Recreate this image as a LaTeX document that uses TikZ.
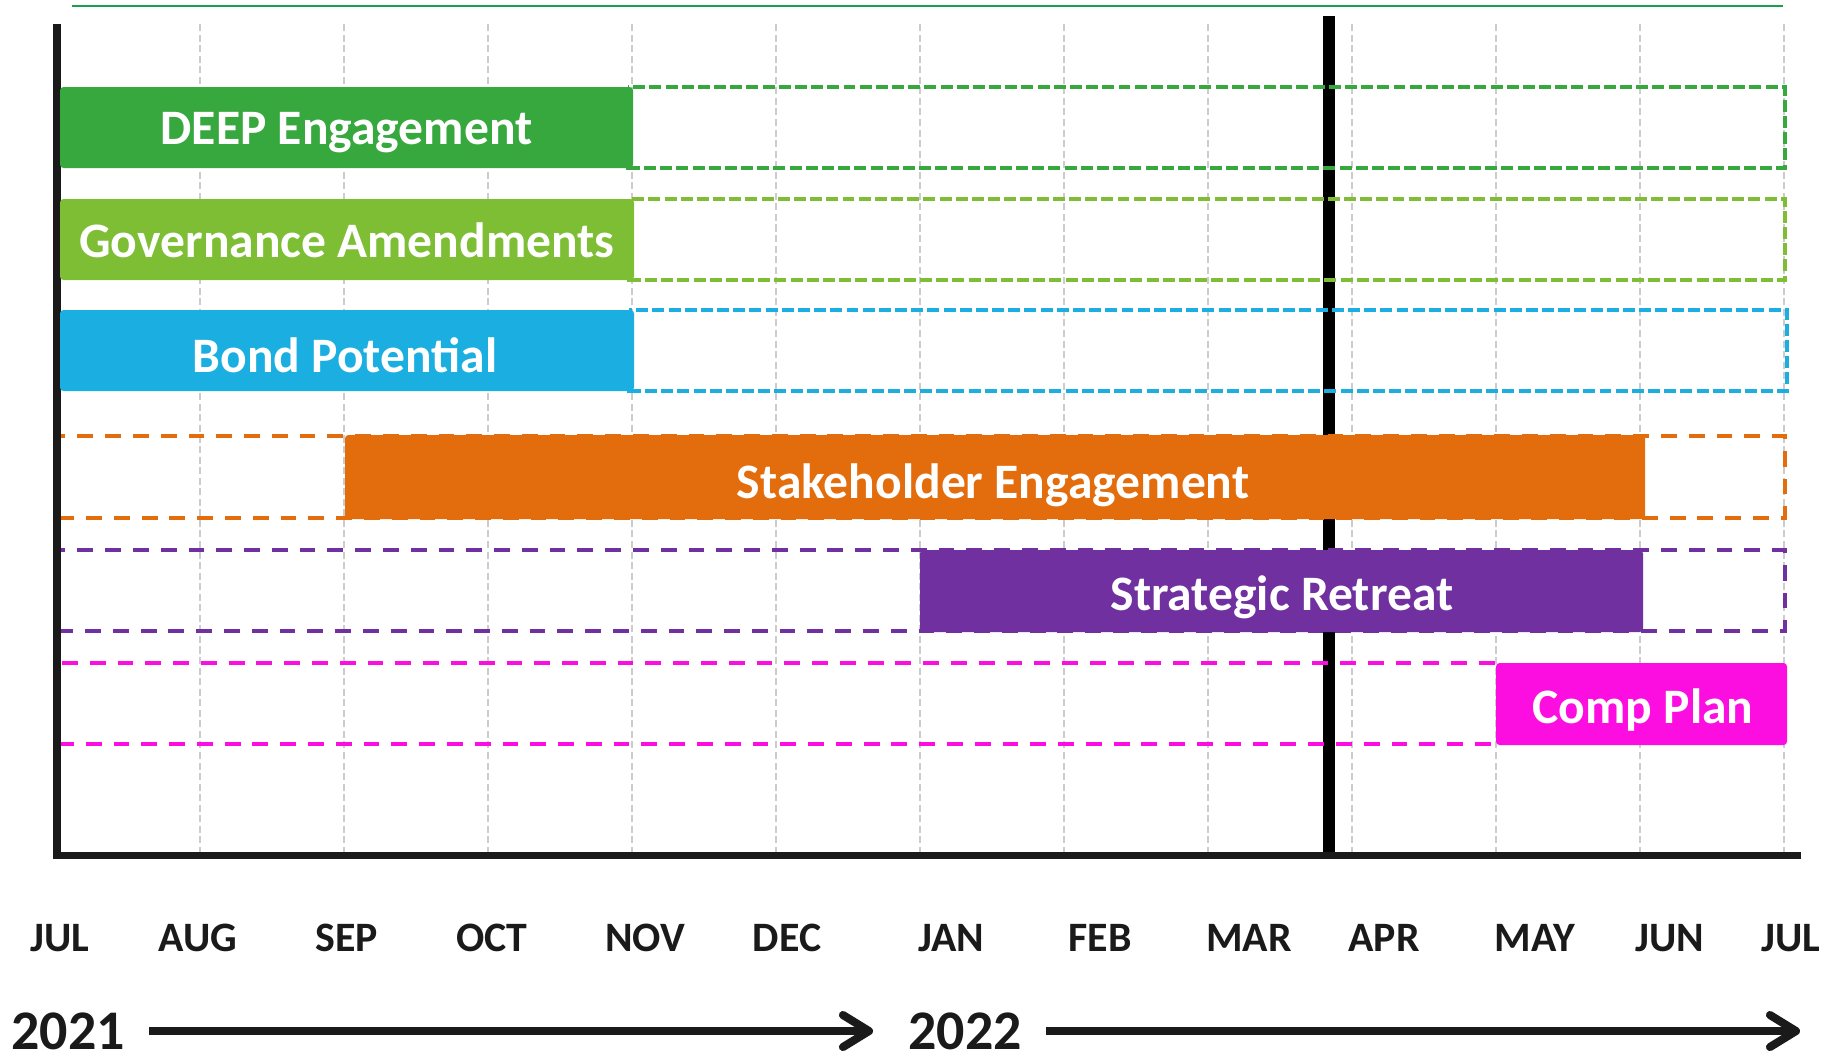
\documentclass[tikz,border=0pt]{standalone}
\usepackage{fontspec}
\setmainfont{Carlito}
\usetikzlibrary{arrows.meta}
\definecolor{deepgreen}{RGB}{54,168,62}
\definecolor{govgreen}{RGB}{125,190,52}
\definecolor{bondblue}{RGB}{26,175,224}
\definecolor{stakeorange}{RGB}{227,108,12}
\definecolor{retreatpurple}{RGB}{112,48,160}
\definecolor{compmagenta}{RGB}{252,14,224}
\definecolor{topgreen}{RGB}{22,160,80}
\definecolor{gridgray}{RGB}{204,204,204}
\definecolor{axisblack}{RGB}{26,26,26}
\begin{document}
\begin{tikzpicture}[x=0.01cm, y=-0.01cm]
    \tikzstyle{grid} = [draw=gridgray, line width=0.6pt, dash pattern=on 2pt off 1pt]
    \tikzstyle{axis} = [draw=axisblack, line width=2pt]
    \tikzstyle{today} = [draw=black, line width=3.4pt]
    \tikzstyle{topline} = [draw=topgreen, line width=0.7pt]
    \tikzstyle{planshort} = [line width=1.1pt, dash pattern=on 3.4pt off 1.2pt]
    \tikzstyle{planlong} = [line width=1.1pt, dash pattern=on 4.5pt off 3.4pt]
    \tikzstyle{bar} = [rounded corners=1pt]
    \tikzstyle{barlabel} = [text=white, font=\bfseries\fontsize{14.1}{16}\selectfont, text height=9.1pt, text depth=0pt, inner sep=0pt]
    \tikzstyle{month} = [anchor=base, text=axisblack, font=\bfseries\fontsize{11.9}{13}\selectfont, inner sep=0pt]
    \tikzstyle{year} = [anchor=base, text=axisblack, font=\bfseries\fontsize{15.9}{18}\selectfont, inner xsep=0.24cm, inner ysep=0pt]
    \tikzstyle{yeararrow} = [draw=axisblack, line width=2.3pt, -{Straight Barb[length=0.26cm, width=0.32cm, round]}]
    \useasboundingbox (0,0) rectangle (1837,1056);
    % month grid
    \foreach \i in {1,...,12}
        \draw[grid] (56+144*\i,24) -- (56+144*\i,852);
    \draw[topline] (72,6) -- (1783,6);
    % today
    \draw[today] (1329,16) -- (1329,855);
    % planned spans
    \draw[planshort, draw=deepgreen] (628,87) rectangle (1785,168);
    \draw[planshort, draw=govgreen] (629,199) rectangle (1785,280);
    \draw[planshort, draw=bondblue] (629,310) rectangle (1787,391);
    \draw[planlong, draw=stakeorange] (57,436) rectangle (1785,518);
    \draw[planlong, draw=retreatpurple] (55,550) rectangle (1785,631);
    \draw[planlong, draw=compmagenta] (62,663) -- (1496,663);
    \draw[planlong, draw=compmagenta] (58,744) -- (1496,744);
    % axes
    \draw[axis] (57,24) -- (57,855.5) -- (1801,855.5);
    % bars
    \fill[bar, deepgreen] (60,87) rectangle (633,168);
    \node[barlabel] (deep) at (346.5,128) {DEEP Engagement};
    \fill[bar, govgreen] (60,199) rectangle (634,280);
    \node[barlabel] (gov) at (347,241) {Governance Amendments};
    \fill[bar, bondblue] (60,310) rectangle (634,391);
    \node[barlabel] (bond) at (345,356) {Bond Potential};
    \fill[bar, stakeorange] (345,435) rectangle (1645,519);
    \node[barlabel] (stake) at (993,482) {Stakeholder Engagement};
    \fill[bar, retreatpurple] (920,550) rectangle (1643,632);
    \node[barlabel] (retreat) at (1282,594) {Strategic Retreat};
    \fill[bar, compmagenta] (1496,663) rectangle (1787,745);
    \node[barlabel] (comp) at (1643,707) {Comp Plan};
    % months
    \foreach \x/\m [count=\k] in {60/JUL,198/AUG,347/SEP,492/OCT,645/NOV,787/DEC,951/JAN,1100/FEB,1249/MAR,1384/APR,1535/MAY,1670/JUN,1791/JUL}
        \node[month] (m\k) at (\x,951) {\m};
    % years
    \node[year] (y2021) at (68,1049) {2021};
    \node[year] (y2022) at (965,1049) {2022};
    \coordinate (tip1) at (873,1031);
    \coordinate (tip2) at (1800,1031);
    \draw[yeararrow] (y2021.east |- tip1) -- (tip1);
    \draw[yeararrow] (y2022.east |- tip2) -- (tip2);
\end{tikzpicture}
\end{document}
